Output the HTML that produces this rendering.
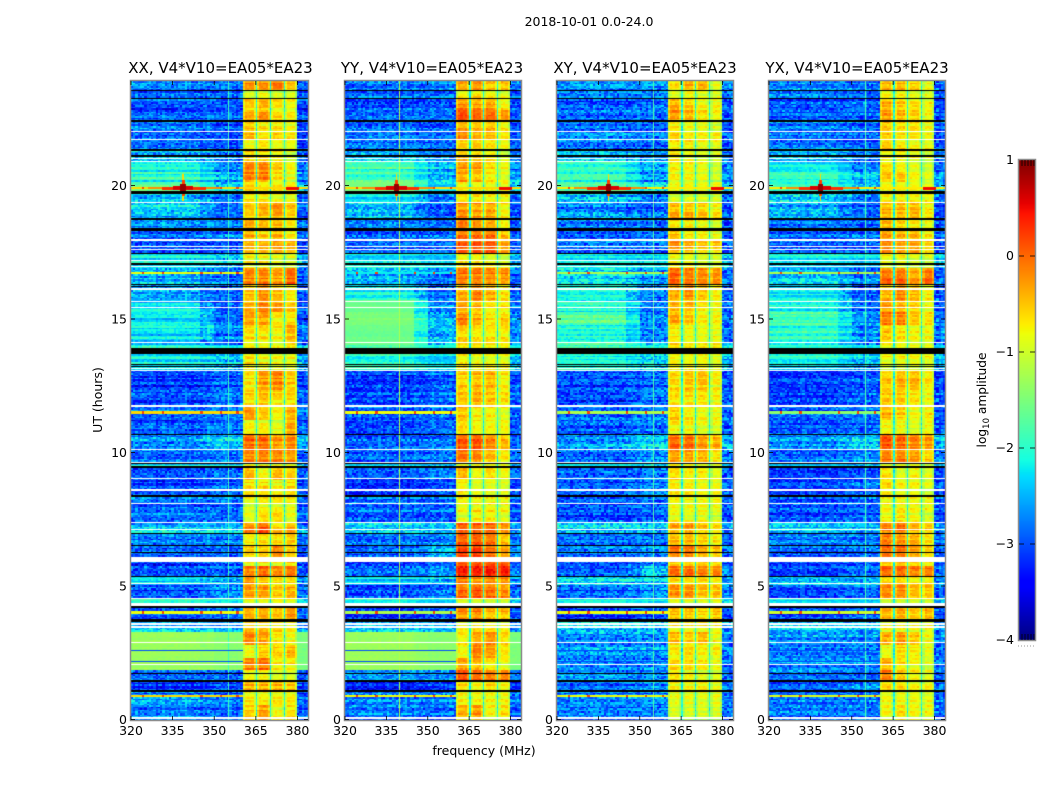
<!DOCTYPE html>
<html>
<head>
<meta charset="utf-8">
<title>2018-10-01 0.0-24.0</title>
<style>
html,body{margin:0;padding:0;background:#fff;}
#figure{position:relative;width:1050px;height:800px;overflow:hidden;background:#fff;}
canvas{position:absolute;display:block;}
svg{position:absolute;left:0;top:0;}
text{font-family:"DejaVu Sans","Liberation Sans",sans-serif;fill:#000;}
</style>
</head>
<body>
<div id="figure">
<canvas id="hm0" width="177" height="639" style="left:131px;top:81px"></canvas>
<canvas id="hm1" width="176" height="639" style="left:345px;top:81px"></canvas>
<canvas id="hm2" width="176" height="639" style="left:557px;top:81px"></canvas>
<canvas id="hm3" width="176" height="639" style="left:769px;top:81px"></canvas>
<canvas id="cbar" width="16" height="480" style="left:1019px;top:160px"></canvas>
<svg id="overlay" width="1050" height="800" xmlns="http://www.w3.org/2000/svg">
<text x="589" y="26" font-size="12.5" text-anchor="middle">2018-10-01 0.0-24.0</text>
<text x="484" y="755" font-size="12.5" text-anchor="middle">frequency (MHz)</text>
<text transform="translate(102,400) rotate(-90)" font-size="12.5" text-anchor="middle">UT (hours)</text>
<text transform="translate(986,400) rotate(-90)" font-size="12.2" text-anchor="middle">log<tspan font-size="8.5" dy="3">10</tspan><tspan dy="-3"> amplitude</tspan></text>
</svg>
</div>
<script>
/* ---------- categories and tick labels ---------- */
const panelTitles = ["XX, V4*V10=EA05*EA23","YY, V4*V10=EA05*EA23","XY, V4*V10=EA05*EA23","YX, V4*V10=EA05*EA23"];
const panelKeys = ["xx","yy","xy","yx"];
const xTickValues = [320,335,350,365,380];
const xTickLabels = ["320","335","350","365","380"];
const yTickValues = [0,5,10,15,20];
const yTickLabels = ["0","5","10","15","20"];
const cbarTickValues = [1,0,-1,-2,-3,-4];
const cbarTickLabels = ["1","0","\u22121","\u22122","\u22123","\u22124"];

/* frequency groups (MHz): quiet, transition, quiet, block, gap, block, gap, block, gap, block, far */
const freqEdges = [320,345,350,360.2,365,365.5,370,370.5,375,375.5,379.9,383.8];
const gapLevel = -21;

/* time bands (UT hours, top to bottom) */
const utEdges = [23.91,23.54,23.28,22.83,22.42,22.04,21.71,21.33,20.88,20.51,20.13,19.76,19.38,18.75,18.37,17.96,17.47,16.91,16.31,15.71,15.26,14.78,14.03,13.69,13.09,12.34,11.78,11.22,10.69,10.13,9.64,9.42,8.97,8.33,7.85,7.40,6.99,6.54,6.09,5.75,5.37,5.04,4.55,4.25,3.73,3.28,2.79,2.30,1.85,1.44,1.07,0.54,0];

/* log10 amplitude x10 per band: [320-345, 350-360, block1, block2, block3, block4] */
const xxRows = [[-27,-28,-4,-4,-3,-6],[-28,-28,-9,-8,-9,-9],[-29,-29,-6,-5,-7,-8],[-29,-29,-5,-4,-7,-8],[-27,-29,-6,-7,-7,-8],[-28,-29,-5,-7,-6,-7],[-27,-29,-8,-7,-8,-8],[-24,-26,-6,-6,-7,-9],[-21,-26,-3,-3,-6,-8],[-20,-25,-3,-3,-7,-9],[-18,-24,-7,-8,-8,-8],[-24,-27,-7,-7,-8,-8],[-24,-28,-6,-5,-4,-6],[-27,-28,-5,-6,-6,-8],[-28,-27,-5,-6,-5,-7],[-29,-29,-5,-5,-4,-5],[-22,-24,-8,-8,-9,-9],[-25,-27,-3,-3,-4,-2],[-26,-29,-6,-4,-6,-8],[-23,-29,-5,-3,-4,-6],[-22,-28,-4,-4,-7,-7],[-23,-27,-7,-7,-8,-5],[-21,-23,-8,-9,-8,-8],[-22,-24,-7,-8,-8,-8],[-30,-28,-7,-4,-3,-6],[-30,-28,-7,-6,-7,-7],[-28,-27,-4,-6,-8,-5],[-29,-28,-8,-8,-9,-5],[-26,-24,-2,-2,-4,-3],[-28,-27,-3,-3,-3,-4],[-22,-23,-8,-8,-8,-8],[-29,-27,-5,-8,-5,-6],[-30,-28,-7,-7,-8,-7],[-28,-28,-9,-8,-8,-8],[-28,-28,-9,-7,-7,-9],[-24,-25,-3,-1,-6,-5],[-27,-27,-8,-7,-7,-6],[-28,-28,-6,-6,-3,-6],[-30,-28,-8,-7,-8,-6],[-29,-28,-3,-2,-3,-2],[-23,-25,-4,-6,-7,-7],[-29,-26,-4,-4,-6,-5],[-21,-23,-9,-9,-9,-9],[-30,-28,-5,-5,-6,-4],[-25,-26,-6,-6,-7,-8],[-13,-14,-3,-4,-7,-8],[-13,-14,-8,-6,-6,-5],[-13,-14,-3,-2,-7,-7],[-28,-28,-8,-8,-9,-9],[-31,-29,-5,-5,-5,-6],[-26,-28,-8,-8,-8,-8],[-27,-28,-6,-4,-8,-7]];
const yyRows = [[-28,-27,-5,-4,-6,-6],[-28,-28,-8,-7,-8,-9],[-29,-28,-3,-4,-4,-7],[-28,-28,-1,-2,-2,-4],[-27,-28,-4,-5,-5,-7],[-27,-28,-3,-5,-5,-7],[-27,-28,-6,-6,-7,-8],[-24,-26,-5,-6,-7,-9],[-19,-25,-4,-4,-7,-8],[-18,-24,-4,-5,-7,-8],[-15,-23,-8,-8,-8,-8],[-23,-27,-7,-7,-8,-8],[-24,-28,-3,-4,-4,-7],[-27,-28,-3,-4,-5,-8],[-28,-27,-2,-2,-2,-5],[-28,-28,-1,-1,-1,-4],[-22,-23,-7,-7,-8,-9],[-24,-26,-2,-2,-3,-3],[-22,-28,-5,-3,-5,-7],[-16,-26,-4,-5,-7,-7],[-15,-25,-3,-5,-7,-6],[-16,-25,-6,-7,-7,-7],[-19,-22,-8,-8,-8,-8],[-20,-23,-7,-8,-8,-8],[-30,-28,-6,-5,-5,-7],[-30,-28,-6,-5,-6,-7],[-28,-27,-5,-7,-7,-8],[-30,-28,-7,-8,-8,-8],[-28,-27,-1,-1,-3,-5],[-28,-27,-2,-3,-5,-7],[-23,-24,-8,-8,-8,-8],[-29,-27,-5,-8,-7,-8],[-30,-28,-7,-8,-8,-8],[-28,-28,-8,-8,-8,-8],[-28,-28,-8,-7,-7,-8],[-24,-25,-2,-2,-2,-4],[-27,-26,-1,-1,-2,-5],[-28,-25,0,0,-2,-4],[-29,-27,0,0,0,0],[-28,-26,1,1,1,1],[-23,-24,-2,-3,-3,-3],[-29,-27,-2,-1,-2,-3],[-21,-23,-9,-9,-9,-9],[-30,-28,-3,-3,-5,-5],[-24,-25,-8,-7,-7,-8],[-13,-14,-7,-4,-3,-6],[-13,-14,-8,-3,-4,-7],[-13,-14,-4,-5,-7,-8],[-26,-27,-1,-2,-3,-3],[-31,-29,-6,-7,-6,-7],[-27,-27,-8,-8,-8,-8],[-27,-28,-5,-4,-8,-7]];
const xyRows = [[-26,-26,-7,-5,-5,-9],[-27,-27,-9,-8,-9,-9],[-29,-28,-5,-6,-8,-8],[-28,-28,-4,-5,-7,-8],[-27,-28,-7,-8,-8,-9],[-27,-28,-7,-8,-8,-8],[-27,-28,-7,-7,-8,-8],[-24,-26,-7,-8,-9,-9],[-21,-26,-8,-8,-9,-10],[-20,-26,-8,-8,-9,-10],[-19,-24,-9,-9,-9,-9],[-24,-27,-9,-9,-9,-9],[-26,-28,-5,-5,-6,-7],[-27,-28,-7,-7,-8,-9],[-28,-27,-5,-7,-7,-8],[-28,-28,-4,-5,-6,-6],[-22,-23,-8,-8,-9,-9],[-24,-27,-2,-3,-4,-4],[-22,-28,-5,-4,-6,-8],[-20,-27,-5,-5,-7,-8],[-18,-27,-5,-6,-8,-8],[-20,-26,-7,-8,-8,-8],[-20,-22,-8,-8,-8,-8],[-21,-24,-8,-8,-8,-9],[-30,-29,-7,-6,-6,-8],[-30,-28,-7,-7,-7,-8],[-28,-27,-6,-7,-8,-8],[-29,-28,-8,-8,-9,-9],[-26,-24,-2,-2,-4,-5],[-28,-26,-4,-4,-5,-7],[-23,-24,-8,-8,-9,-9],[-29,-28,-7,-8,-8,-9],[-30,-28,-8,-8,-9,-9],[-29,-28,-8,-8,-8,-8],[-29,-28,-8,-8,-8,-9],[-24,-25,-5,-4,-6,-7],[-27,-27,-5,-5,-6,-7],[-28,-27,-3,-3,-5,-6],[-29,-28,-6,-6,-6,-7],[-29,-25,-2,-2,-3,-3],[-24,-25,-7,-7,-7,-8],[-29,-27,-4,-4,-6,-6],[-22,-23,-9,-9,-9,-9],[-30,-28,-5,-5,-6,-5],[-24,-25,-8,-8,-8,-8],[-26,-26,-5,-6,-5,-8],[-26,-26,-8,-7,-8,-8],[-26,-26,-6,-6,-7,-8],[-26,-27,-7,-8,-9,-9],[-29,-27,-8,-8,-8,-9],[-27,-27,-9,-9,-9,-9],[-27,-27,-9,-9,-9,-9]];
const yxRows = [[-26,-27,-5,-5,-6,-8],[-27,-28,-8,-8,-9,-9],[-29,-28,-5,-6,-7,-8],[-28,-28,-4,-5,-6,-8],[-27,-28,-6,-7,-7,-8],[-27,-28,-6,-7,-7,-8],[-27,-28,-6,-7,-8,-8],[-24,-26,-7,-7,-8,-9],[-21,-26,-6,-7,-8,-9],[-20,-25,-6,-6,-8,-9],[-19,-24,-8,-8,-8,-8],[-24,-27,-8,-8,-8,-8],[-25,-28,-5,-5,-5,-7],[-27,-28,-5,-6,-7,-8],[-28,-27,-4,-5,-5,-7],[-28,-28,-3,-4,-4,-6],[-22,-23,-8,-8,-9,-9],[-24,-27,-2,-2,-4,-2],[-22,-28,-5,-3,-5,-7],[-21,-27,-4,-5,-6,-8],[-19,-26,-3,-3,-6,-7],[-20,-26,-6,-7,-8,-8],[-20,-22,-8,-8,-8,-8],[-21,-24,-8,-8,-8,-8],[-30,-29,-6,-5,-5,-7],[-30,-28,-6,-6,-7,-8],[-28,-27,-5,-6,-8,-7],[-29,-28,-8,-8,-9,-8],[-26,-24,-1,-2,-3,-4],[-28,-26,-3,-3,-4,-6],[-23,-24,-8,-8,-8,-9],[-29,-28,-6,-8,-7,-8],[-30,-28,-7,-8,-8,-9],[-29,-28,-8,-8,-8,-8],[-29,-28,-8,-7,-8,-9],[-24,-25,-3,-2,-5,-6],[-27,-27,-3,-4,-5,-7],[-28,-27,-2,-2,-4,-6],[-29,-28,-5,-5,-6,-7],[-29,-26,-1,-1,-2,-2],[-24,-25,-6,-6,-7,-7],[-29,-27,-3,-3,-5,-5],[-22,-23,-9,-9,-9,-9],[-30,-28,-5,-5,-6,-5],[-24,-25,-8,-8,-8,-8],[-26,-26,-5,-4,-6,-8],[-26,-26,-8,-6,-7,-8],[-26,-26,-5,-7,-8,-9],[-26,-27,-2,-5,-7,-8],[-29,-27,-7,-7,-8,-8],[-27,-27,-8,-8,-8,-8],[-27,-27,-8,-7,-8,-8]];

/* estimated fine-grain texture, in tenths of a decade */
const speckle = [3,-2,1,-4,2,0,-3,4,-1,2,-5,1,3,-2,0,5,-3,1,-1,4,-4,2,0,-2,3,-1,5,-3,1,-2,4,0,-4,2,-1,3,-5,0,2,-3,4,1,-2,3,-1,-4,5,0,1,-3,2,-2,4,-1,3,-5,0,2,-4,1,3,-2,0,4];

/* narrowband interference: constant-frequency lines */
const rfiFreqs = [355,339.7,354.8,354.8];
const rfiLevels = [-19,-12,-18,-18];

/* thin dark streaks across the quiet band: [UT, level] */
const darkStreaks = [[2.57,-30],[2.16,-30]];

/* hot horizontal lines: UT, level per panel, red-spot frequencies */
const hotLineUT = [19.90,16.71,11.50,4.01,0.88];
const hotLevelsXX = [-6,-8,-6,-8,-6];
const hotLevelsYY = [-6,-22,-8,-12,-8];
const hotLevelsXY = [-7,-12,-12,-8,-8];
const hotLevelsYX = [-7,-12,-14,-10,-9];
const hotSpotFreqs = [324,331,345,352,358];

/* burst near 338.7 MHz at 19.9 UT */
const burstFLo = [326,331,338.4,338.3,335,337.8,376];
const burstFHi = [352,347,339,339.3,342.5,339.7,380.5];
const burstUTLo = [19.87,19.85,19.42,19.6,19.83,19.76,19.85];
const burstUTHi = [19.93,19.95,20.42,20.22,19.97,20.04,19.95];
const burstLevel = [-2,3,-6,2,6,9,5];

/* flagged integrations: [UT centre, width in hours] */
const blackLines = [[23.55,.056],[23.27,.03],[22.42,.075],[21.33,.075],[21.10,.056],[19.73,.094],[18.73,.075],[18.35,.11],[17.46,.056],[17.06,.075],[16.30,.056],[16.22,.04],[13.82,.225],[13.30,.04],[13.22,.04],[10.68,.056],[9.58,.04],[9.44,.075],[8.37,.04],[6.97,.04],[6.52,.04],[6.25,.04],[5.37,.04],[4.22,.056],[3.76,.04],[3.68,.056],[1.73,.045],[1.45,.056],[1.07,.075]];
const whiteLines = [[22.01,.04],[21.73,.04],[21.02,.056],[20.90,.045],[19.38,.04],[17.96,.04],[17.71,.04],[17.62,.04],[17.20,.056],[16.98,.04],[16.13,.056],[15.65,.04],[15.44,.04],[14.13,.04],[13.15,.04],[13.06,.04],[11.78,.03],[11.72,.04],[10.12,.04],[9.63,.04],[9.02,.04],[8.59,.09],[8.39,.04],[8.10,.04],[7.39,.04],[7.13,.04],[5.99,.19],[5.10,.04],[4.54,.04],[4.31,.11],[3.58,.056],[3.48,.075],[2.89,.04],[2.07,.04],[0.056,.04]];

/* ---------- layout and scales ---------- */
const axesLeft = [131,345,557,769];
const axesWidth = [177,176,176,176];
const titleShift = [1,-1,0,0];
const axesTop = 81, axesBottom = 720;
const freqMin = 320, freqSpan = 63.8;
const panelRows = [xxRows,yyRows,xyRows,yxRows];
const panelHot = [hotLevelsXX,hotLevelsYY,hotLevelsXY,hotLevelsYX];

function xScale(p,f){return axesLeft[p]+(f-freqMin)*axesWidth[p]/freqSpan;}
function yScale(ut){return 719.5-26.7*ut;}
function cbarScale(v){return 160+(1-v)*96;}

function ramp(t,pts){
  if(t<=pts[0][0])return pts[0][1];
  for(let i=1;i<pts.length;i++){
    if(t<=pts[i][0]){
      const a=pts[i-1],b=pts[i];
      return a[1]+(b[1]-a[1])*(t-a[0])/(b[0]-a[0]);
    }
  }
  return pts[pts.length-1][1];
}
const jetR=[[0,0],[.35,0],[.66,1],[.89,1],[1,.5]];
const jetG=[[0,0],[.125,0],[.375,1],[.64,1],[.91,0],[1,0]];
const jetB=[[0,.5],[.11,1],[.34,1],[.65,0],[1,0]];
function jet(logAmp){
  const t=Math.max(0,Math.min(1,(logAmp+4)/5));
  return "rgb("+Math.round(255*ramp(t,jetR))+","+Math.round(255*ramp(t,jetG))+","+Math.round(255*ramp(t,jetB))+")";
}

function box(ctx,p,fLo,fHi,utLo,utHi,color){
  const x0=Math.round(xScale(p,fLo))-axesLeft[p];
  const x1=Math.max(x0+1,Math.round(xScale(p,fHi))-axesLeft[p]);
  const y0=Math.round(yScale(utHi))-axesTop;
  const y1=Math.max(y0+1,Math.round(yScale(utLo))-axesTop);
  ctx.fillStyle=color;
  ctx.fillRect(x0,y0,x1-x0,y1-y0);
}

/* map a frequency group index to a value for a given band row */
function groupLevel(row,g){
  if(g===0)return row[0];
  if(g===1)return (row[0]+row[1])/2;
  if(g===2)return row[1];
  if(g===4||g===6||g===8)return gapLevel;
  if(g===3)return row[2];
  if(g===5)return row[3];
  if(g===7)return row[4];
  if(g===9)return row[5];
  return row[1]-1;
}

function drawPanel(p){
  const ctx=document.getElementById("hm"+p).getContext("2d");
  const rows=panelRows[p];
  const n=speckle.length;
  let rowCounter=p*9;
  for(let b=0;b<rows.length;b++){
    const utHi=utEdges[b],utLo=utEdges[b+1];
    const nT=Math.max(1,Math.round((utHi-utLo)/0.06));
    const dT=(utHi-utLo)/nT;
    for(let j=0;j<nT;j++){
      rowCounter++;
      const rowOff=speckle[(rowCounter*rowCounter*5+rowCounter*3+p)%n];
      let c=0;
      for(let g=0;g<freqEdges.length-1;g++){
        const lo=freqEdges[g],hi=freqEdges[g+1];
        const nF=Math.max(1,Math.round((hi-lo)/0.8));
        const dF=(hi-lo)/nF;
        const isBlock=(g===3||g===5||g===7||g===9);
        const isGap=(g===4||g===6||g===8);
        for(let k=0;k<nF;k++){
          c++;
          const sp=speckle[(c*c*3+c*7+rowCounter*rowCounter*5+rowCounter*c*11+p*11)%n];
          let v=groupLevel(rows[b],g);
          if(isBlock){
            v=-8+(v+8)*1.3;
            v+=0.3*sp+0.4*rowOff;
            if(k===0||k===nF-1)v-=3;
          }else if(isGap){
            v+=0.6*sp;
          }else if(v>-17){
            v+=0.12*sp+0.1*rowOff;
          }else if(v>-24){
            v+=0.4*sp+0.6*rowOff;
          }else{
            if(v<=-26)v-=1;
            v+=0.9*sp+0.5*rowOff;
          }
          box(ctx,p,lo+k*dF,lo+(k+1)*dF,utHi-(j+1)*dT,utHi-j*dT,jet(v/10));
        }
      }
    }
  }
  /* vertical interference line */
  box(ctx,p,rfiFreqs[p],rfiFreqs[p]+0.3,0,24,jet(rfiLevels[p]/10));
  /* dark streaks */
  darkStreaks.forEach(function(s){
    box(ctx,p,320,360.2,s[0]-0.02,s[0]+0.02,jet(s[1]/10));
  });
  /* hot lines with red spots */
  hotLineUT.forEach(function(ut,i){
    const fHi=i===0?383.8:360.2;
    box(ctx,p,320,fHi,ut-0.04,ut+0.04,jet(panelHot[p][i]/10));
    hotSpotFreqs.forEach(function(f){
      box(ctx,p,f,f+0.8,ut-0.04,ut+0.04,jet(0.2));
    });
  });
  /* burst */
  burstLevel.forEach(function(lv,i){
    box(ctx,p,burstFLo[i],burstFHi[i],burstUTLo[i],burstUTHi[i],jet(lv/10));
  });
  /* flagged integrations */
  whiteLines.forEach(function(l){box(ctx,p,320,383.8,l[0]-l[1]/2,l[0]+l[1]/2,"#fff");});
  blackLines.forEach(function(l){box(ctx,p,320,383.8,l[0]-l[1]/2,l[0]+l[1]/2,"#000");});
}
for(let p=0;p<4;p++)drawPanel(p);

/* colourbar */
(function(){
  const ctx=document.getElementById("cbar").getContext("2d");
  for(let y=0;y<480;y++){
    ctx.fillStyle=jet(1-y/96);
    ctx.fillRect(0,y,16,1);
  }
})();

/* ---------- axes, ticks, labels ---------- */
const svg=document.getElementById("overlay");
const NS="http://www.w3.org/2000/svg";
function tickLine(x1,y1,x2,y2,name){
  const l=document.createElementNS(NS,"line");
  l.setAttribute("x1",x1);
  l.setAttribute("y1",y1);
  l.setAttribute("x2",x2);
  l.setAttribute("y2",y2);
  l.setAttribute("stroke","#000");
  l.setAttribute("stroke-width","0.8");
  
  
  svg.appendChild(l);
}
function label(x,y,str,anchor,size,name){
  const t=document.createElementNS(NS,"text");
  t.setAttribute("x",x);
  t.setAttribute("y",y);
  t.setAttribute("font-size",size);
  t.setAttribute("text-anchor",anchor);
  
  
  t.textContent=str;
  svg.appendChild(t);
}
for(let p=0;p<4;p++){
  const L=axesLeft[p],R=L+axesWidth[p];
  const frame=document.createElementNS(NS,"rect");
  frame.setAttribute("x",L-0.5);
  frame.setAttribute("y",axesTop-0.5);
  frame.setAttribute("width",axesWidth[p]+1);
  frame.setAttribute("height",axesBottom-axesTop+1);
  frame.setAttribute("fill","none");
  frame.setAttribute("stroke","#8c8c8c");
  frame.setAttribute("stroke-width","1.5");
  
  
  svg.appendChild(frame);
  label((L+R)/2+titleShift[p],73,panelTitles[p],"middle",15,"panel-title-"+panelKeys[p]);
  xTickValues.forEach(function(f,i){
    const x=xScale(p,f);
    tickLine(x,axesBottom,x,axesBottom-4,"x-tick-bottom");
    tickLine(x,axesTop,x,axesTop+4,"x-tick-top");
    label(x,735,xTickLabels[i],"middle",12.5,"x-tick-label");
  });
  yTickValues.forEach(function(ut,i){
    const y=yScale(ut);
    tickLine(L,y,L+4,y,"y-tick-left");
    tickLine(R,y,R-4,y,"y-tick-right");
    label(L-4,y+4.5,yTickLabels[i],"end",12.5,"y-tick-label");
  });
}
const cbFrame=document.createElementNS(NS,"rect");
cbFrame.setAttribute("x",1018.5);
cbFrame.setAttribute("y",159.5);
cbFrame.setAttribute("width",17);
cbFrame.setAttribute("height",481);
cbFrame.setAttribute("fill","none");
cbFrame.setAttribute("stroke","#8c8c8c");
cbFrame.setAttribute("stroke-width","1.5");


svg.appendChild(cbFrame);
cbarTickValues.forEach(function(v,i){
  const y=cbarScale(v);
  if(i>0&&i<cbarTickValues.length-1){
    tickLine(1019,y,1024,y,"colorbar-tick-left");
    tickLine(1030,y,1035,y,"colorbar-tick-right");
  }
  label(1014,y+4,cbarTickLabels[i],"end",12.5,"colorbar-tick-label");
});
[1022,1025,1028,1031,1034].forEach(function(x){
  tickLine(x,160,x,166,"colorbar-end-tick-top");
  tickLine(x,640,x,634,"colorbar-end-tick-bottom");
});
const dots=document.createElementNS(NS,"line");
dots.setAttribute("x1",1018);
dots.setAttribute("y1",646);
dots.setAttribute("x2",1035);
dots.setAttribute("y2",646);
dots.setAttribute("stroke","#999");
dots.setAttribute("stroke-width","1");
dots.setAttribute("stroke-dasharray","1 2");


svg.appendChild(dots);
</script>
</body>
</html>
